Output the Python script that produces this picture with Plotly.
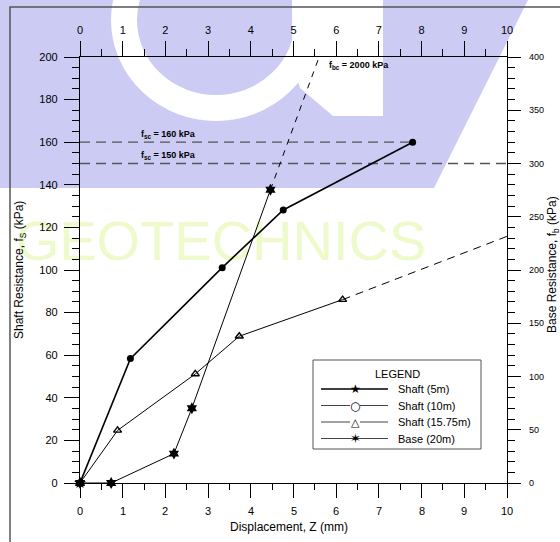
import plotly.graph_objects as go

# ---------------- data ----------------
disp_shaft5 = [0.0]
fs_shaft5 = [0.0]

disp_shaft10 = [0.0, 1.18, 3.33, 4.76, 7.79]
fs_shaft10 = [0.0, 58.4, 101.1, 128.2, 160.0]

disp_shaft1575 = [0.0, 0.88, 2.70, 3.73, 6.15]
fs_shaft1575 = [0.0, 24.7, 51.2, 68.9, 86.1]
disp_shaft1575_ext = [6.15, 10.0]
fs_shaft1575_ext = [86.1, 115.8]

disp_base20 = [0.0, 0.73, 2.20, 2.62, 4.46]
fb_base20 = [0.0, 0.0, 27.6, 70.2, 275.4]
disp_base20_ext = [4.46, 5.60]
fb_base20_ext = [275.4, 400.0]

fsc_160 = 160
fsc_150 = 150
fsc_160_xend = 7.79
fsc_150_xend = 10.0

x_ticks = list(range(0, 11))
fs_ticks = list(range(0, 201, 20))
fb_ticks = list(range(0, 401, 50))

legend_names = ["Shaft (5m)", "Shaft (10m)", "Shaft (15.75m)", "Base (20m)"]
legend_glyphs = ["\u2605", "\u25CB", "\u25B3", "\u2736"]

FONT = 'Arial, "Liberation Sans", sans-serif'
GLYPH_FONT = '"DejaVu Sans", sans-serif'

# figure geometry (pixels)
W, H = 560, 542
L, R, T, B = 80, 53, 57, 59
PW, PH = W - L - R, H - T - B


def px(x):
    return (x - L) / PW


def py(y):
    return (H - B - y) / PH


fig = go.Figure()

# ---------------- data traces ----------------
fig.add_trace(go.Scatter(
    x=[0, fsc_160_xend], y=[fsc_160, fsc_160], mode="lines", showlegend=False,
    line=dict(color="#555555", width=1.3, dash="10px,6px")))
fig.add_trace(go.Scatter(
    x=[0, fsc_150_xend], y=[fsc_150, fsc_150], mode="lines", showlegend=False,
    line=dict(color="#555555", width=1.3, dash="10px,6px")))

fig.add_trace(go.Scatter(
    x=disp_shaft10, y=fs_shaft10, mode="lines+markers", showlegend=False,
    line=dict(color="black", width=1.6),
    marker=dict(symbol="circle", size=7, color="black"), cliponaxis=False))

fig.add_trace(go.Scatter(
    x=disp_shaft1575, y=fs_shaft1575, mode="lines+markers", showlegend=False,
    line=dict(color="black", width=1),
    marker=dict(symbol="triangle-up-open", size=7, color="black",
                line=dict(width=1.4)), cliponaxis=False))
fig.add_trace(go.Scatter(
    x=disp_shaft1575_ext, y=fs_shaft1575_ext, mode="lines", showlegend=False,
    line=dict(color="black", width=1, dash="8px,6px"), cliponaxis=False))

fig.add_trace(go.Scatter(
    x=disp_shaft5, y=fs_shaft5, mode="markers", showlegend=False,
    marker=dict(symbol="star", size=9, color="black"), cliponaxis=False))

fig.add_trace(go.Scatter(
    x=disp_base20, y=fb_base20, xaxis="x2", yaxis="y2", mode="lines+markers",
    showlegend=False, line=dict(color="black", width=1),
    marker=dict(symbol="hexagram", size=9, color="black"), cliponaxis=False))
fig.add_trace(go.Scatter(
    x=disp_base20_ext, y=fb_base20_ext, xaxis="x2", yaxis="y2", mode="lines",
    showlegend=False, line=dict(color="black", width=1, dash="6px,6px"),
    cliponaxis=False))

# ---------------- watermark (background decoration) ----------------
lav = "#cbcbf4"
shapes = []
shapes.append(dict(type="path", xref="paper", yref="paper", layer="below",
                   path=f"M {px(0)},{py(0)} L {px(528)},{py(0)} L {px(434)},{py(188)} L {px(0)},{py(188)} Z",
                   fillcolor=lav, line=dict(width=0)))
shapes.append(dict(type="circle", xref="paper", yref="paper", layer="below",
                   x0=px(216 - 92), x1=px(216 + 92), y0=py(20 - 88), y1=py(20 + 88),
                   line=dict(color="white", width=26), fillcolor="rgba(0,0,0,0)"))
shapes.append(dict(type="path", xref="paper", yref="paper", layer="below",
                   path=f"M {px(292)},{py(0)} L {px(383)},{py(0)} L {px(383)},{py(116)} L {px(333)},{py(116)} L {px(300)},{py(88)} L {px(292)},{py(60)} Z",
                   fillcolor="white", line=dict(width=0)))
shapes.append(dict(type="rect", xref="paper", yref="paper", layer="below",
                   x0=px(0), x1=px(442), y0=py(262), y1=py(208),
                   line=dict(width=0), fillcolor="rgba(0,0,0,0)",
                   label=dict(text="GEOTECHNICS", textposition="middle center",
                              font=dict(family=FONT, size=56, color="#eefacb"))))
# outer frame
shapes.append(dict(type="rect", xref="paper", yref="paper", layer="above",
                   x0=px(10), x1=px(566), y0=py(548), y1=py(7),
                   line=dict(color="#555555", width=1.5), fillcolor="rgba(0,0,0,0)"))

annotations = []

# bottom tick labels, placed on the x scale
for v in x_ticks:
    annotations.append(dict(text=str(v), xref="x", yref="paper", x=v, y=py(511),
                            xanchor="center", yanchor="middle", showarrow=False,
                            font=dict(family=FONT, size=11, color="black")))

# reference labels
annotations += [
    dict(text="<b>f<sub>sc</sub> = 160 kPa</b>", xref="paper", yref="paper",
         x=px(139), y=py(134), xanchor="left", yanchor="middle", showarrow=False,
         font=dict(family=FONT, size=9, color="black")),
    dict(text="<b>f<sub>sc</sub> = 150 kPa</b>", xref="paper", yref="paper",
         x=px(139), y=py(155), xanchor="left", yanchor="middle", showarrow=False,
         font=dict(family=FONT, size=9, color="black")),
    dict(text="<b>f<sub>bc</sub> = 2000 kPa</b>", xref="paper", yref="paper",
         x=px(327), y=py(66), xanchor="left", yanchor="middle", showarrow=False,
         font=dict(family=FONT, size=9, color="black")),
]

# axis titles
annotations += [
    dict(text="Displacement, Z (mm)", xref="paper", yref="paper",
         x=px(289), y=py(527), xanchor="center", yanchor="middle", showarrow=False,
         font=dict(family=FONT, size=12, color="black")),
    dict(text="Shaft Resistance, f<sub>S</sub> (kPa)", xref="paper", yref="paper",
         x=px(20), y=py(270), xanchor="center", yanchor="middle", textangle=-90,
         showarrow=False, font=dict(family=FONT, size=12, color="black")),
    dict(text="Base Resistance, f<sub>b</sub> (kPa)", xref="paper", yref="paper",
         x=px(553), y=py(265), xanchor="center", yanchor="middle", textangle=-90,
         showarrow=False, font=dict(family=FONT, size=12, color="black")),
]

# ---------------- legend box (drawn by hand) ----------------
LX0, LX1, LY0, LY1 = 313, 481, 360, 449
shapes.append(dict(type="rect", xref="paper", yref="paper", layer="above",
                   x0=px(LX0), x1=px(LX1), y0=py(LY1), y1=py(LY0),
                   line=dict(color="#555555", width=1), fillcolor="white"))
annotations.append(dict(text="LEGEND", xref="paper", yref="paper",
                        x=px(397), y=py(374), xanchor="center", yanchor="middle",
                        showarrow=False, font=dict(family=FONT, size=11, color="black")))
item_y = [389, 405.5, 422, 438.5]
line_styles = [("black", 1.5), ("#444444", 1), ("#444444", 1), ("#444444", 1)]
open_marker = [False, True, True, False]
glyph_sizes = [12, 12, 11, 13]
for i, name in enumerate(legend_names):
    yy = item_y[i]
    col, wid = line_styles[i]
    if open_marker[i]:
        segs = [(321, 350), (360, 388)]
    else:
        segs = [(321, 388)]
    for a, b in segs:
        shapes.append(dict(type="line", xref="paper", yref="paper", layer="above",
                           x0=px(a), x1=px(b), y0=py(yy), y1=py(yy),
                           line=dict(color=col, width=wid)))
    annotations.append(dict(text=legend_glyphs[i], xref="paper", yref="paper",
                            x=px(355), y=py(yy), xanchor="center", yanchor="middle",
                            showarrow=False,
                            font=dict(family=GLYPH_FONT, size=glyph_sizes[i], color="black")))
    annotations.append(dict(text=name, xref="paper", yref="paper",
                            x=px(396), y=py(yy), xanchor="left", yanchor="middle",
                            showarrow=False, font=dict(family=FONT, size=11, color="black")))

axis_common = dict(showline=True, linecolor="black", linewidth=1.2, showgrid=False,
                   zeroline=False, ticks="outside", tickcolor="black", tickwidth=1,
                   tickfont=dict(family=FONT, size=11, color="black"))

fig.update_layout(
    width=W, height=H,
    margin=dict(l=L, r=R, t=T, b=B),
    paper_bgcolor="white", plot_bgcolor="rgba(0,0,0,0)",
    font=dict(family=FONT, color="black"),
    showlegend=False,
    shapes=shapes, annotations=annotations,
    xaxis=dict(range=[0, 10], tickvals=x_ticks, ticklen=14, showticklabels=False,
               minor=dict(dtick=0.5, ticklen=6, ticks="outside", tickcolor="black", tickwidth=1),
               **axis_common),
    xaxis2=dict(range=[0, 10], tickvals=x_ticks, overlaying="x", side="top", ticklen=15,
                ticklabelstandoff=3,
                minor=dict(dtick=0.5, ticklen=7, ticks="outside", tickcolor="black", tickwidth=1),
                **axis_common),
    yaxis=dict(range=[0, 200], tickvals=fs_ticks, ticklen=15, ticklabelstandoff=4,
               minor=dict(dtick=5, ticklen=7, ticks="outside", tickcolor="black", tickwidth=1),
               **axis_common),
    yaxis2=dict(range=[0, 400], tickvals=fb_ticks, overlaying="y", side="right", ticklen=13,
                ticklabelstandoff=6,
                minor=dict(dtick=10, ticklen=7, ticks="outside", tickcolor="black", tickwidth=1),
                **{**axis_common, "tickfont": dict(family=FONT, size=9, color="black")}),
)

fig.write_html("out.html", config={"displayModeBar": False},
               post_script="document.body.style.margin='0px';")
